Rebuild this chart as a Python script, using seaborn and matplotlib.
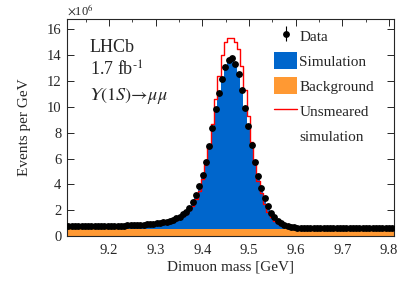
import numpy as np
import matplotlib
matplotlib.use("Agg")
import matplotlib.pyplot as plt
import seaborn as sns
from matplotlib.lines import Line2D
from matplotlib.patches import Patch
from matplotlib.ticker import MultipleLocator, FuncFormatter

# binning: 100 bins of 7 MeV between 9.11 and 9.81 GeV
edges = np.linspace(9.11, 9.81, 101)
centers = 0.5 * (edges[:-1] + edges[1:])

# events per GeV, in units of 1e6
data = [0.75, 0.75, 0.75, 0.76, 0.76, 0.76, 0.76, 0.77, 0.77, 0.77,
        0.78, 0.78, 0.78, 0.79, 0.79, 0.80, 0.80, 0.81, 0.82, 0.83,
        0.84, 0.85, 0.86, 0.88, 0.90, 0.92, 0.95, 0.98, 1.02, 1.06,
        1.12, 1.19, 1.27, 1.37, 1.50, 1.68, 1.89, 2.20, 2.61, 3.16,
        3.85, 4.76, 5.74, 6.98, 8.37, 9.80, 11.04, 12.20, 13.10, 13.67,
        13.75, 13.36, 12.53, 11.30, 9.92, 8.50, 7.08, 5.74, 4.65, 3.72,
        2.94, 2.30, 1.80, 1.45, 1.16, 0.98, 0.85, 0.76, 0.70, 0.67,
        0.65, 0.64, 0.63, 0.62, 0.62, 0.61, 0.61, 0.61, 0.60, 0.60,
        0.60, 0.60, 0.60, 0.60, 0.60, 0.60, 0.60, 0.60, 0.60, 0.60,
        0.60, 0.60, 0.60, 0.60, 0.60, 0.60, 0.60, 0.60, 0.60, 0.60]

simulation = [0.72, 0.72, 0.72, 0.73, 0.73, 0.73, 0.73, 0.74, 0.74, 0.74,
              0.75, 0.75, 0.75, 0.76, 0.76, 0.77, 0.77, 0.78, 0.79, 0.80,
              0.81, 0.82, 0.83, 0.85, 0.87, 0.89, 0.92, 0.95, 0.99, 1.03,
              1.09, 1.16, 1.24, 1.34, 1.47, 1.65, 1.86, 2.17, 2.58, 3.15,
              3.85, 4.78, 5.80, 7.05, 8.45, 9.90, 11.20, 12.35, 13.25, 13.80,
              13.90, 13.45, 12.60, 11.35, 9.95, 8.50, 7.05, 5.70, 4.60, 3.65,
              2.88, 2.24, 1.75, 1.40, 1.12, 0.94, 0.82, 0.74, 0.68, 0.65,
              0.63, 0.62, 0.61, 0.61, 0.60, 0.60, 0.60, 0.60, 0.59, 0.59,
              0.59, 0.59, 0.59, 0.59, 0.59, 0.59, 0.59, 0.59, 0.59, 0.59,
              0.59, 0.59, 0.59, 0.59, 0.59, 0.59, 0.59, 0.59, 0.59, 0.59]

unsmeared = [0.69, 0.69, 0.69, 0.70, 0.70, 0.70, 0.70, 0.71, 0.71, 0.71,
             0.72, 0.72, 0.72, 0.73, 0.73, 0.74, 0.74, 0.75, 0.76, 0.77,
             0.78, 0.79, 0.80, 0.82, 0.84, 0.86, 0.89, 0.92, 0.95, 0.99,
             1.05, 1.11, 1.18, 1.27, 1.38, 1.52, 1.72, 1.98, 2.35, 2.85,
             3.50, 4.40, 5.50, 6.90, 8.70, 10.60, 12.40, 14.00, 15.05, 15.30,
             15.35, 15.05, 14.45, 13.20, 11.30, 9.30, 7.30, 5.60, 4.30, 3.30,
             2.50, 1.90, 1.48, 1.18, 0.98, 0.85, 0.76, 0.70, 0.66, 0.63,
             0.62, 0.61, 0.60, 0.60, 0.59, 0.59, 0.59, 0.59, 0.59, 0.59,
             0.59, 0.59, 0.59, 0.59, 0.59, 0.59, 0.59, 0.59, 0.59, 0.59,
             0.59, 0.59, 0.59, 0.59, 0.59, 0.59, 0.59, 0.59, 0.59, 0.59]

background = [0.58, 0.58, 0.58, 0.58, 0.58, 0.58, 0.58, 0.58, 0.58, 0.58,
              0.58, 0.58, 0.58, 0.58, 0.58, 0.58, 0.58, 0.58, 0.58, 0.58,
              0.57, 0.57, 0.57, 0.57, 0.57, 0.57, 0.57, 0.57, 0.57, 0.57,
              0.57, 0.57, 0.57, 0.57, 0.57, 0.57, 0.57, 0.57, 0.57, 0.57,
              0.57, 0.57, 0.57, 0.57, 0.57, 0.57, 0.57, 0.57, 0.57, 0.57,
              0.57, 0.57, 0.57, 0.57, 0.57, 0.57, 0.57, 0.57, 0.57, 0.57,
              0.57, 0.57, 0.57, 0.57, 0.57, 0.57, 0.57, 0.57, 0.57, 0.57,
              0.57, 0.57, 0.57, 0.57, 0.57, 0.57, 0.57, 0.57, 0.57, 0.57,
              0.56, 0.56, 0.56, 0.56, 0.56, 0.56, 0.56, 0.56, 0.56, 0.56,
              0.56, 0.56, 0.56, 0.56, 0.56, 0.56, 0.56, 0.56, 0.56, 0.56]

scale = 1e6
data = np.array(data) * scale
simulation = np.array(simulation) * scale
unsmeared = np.array(unsmeared) * scale
background = np.array(background) * scale
width = edges[1] - edges[0]
data_err = np.sqrt(data * width) / width
bin_list = edges.tolist()

blue = "#0066cc"
orange = "#ff9933"
red = "#ff0000"

sns.set_style("ticks")
plt.rcParams["font.family"] = ["Liberation Serif", "DejaVu Serif"]
plt.rcParams["mathtext.fontset"] = "stix"

fig = plt.figure(figsize=(4.15, 2.81), dpi=100)
ax = fig.add_axes([0.161, 0.160, 0.788, 0.772])

sns.histplot(x=centers, weights=simulation, bins=bin_list, element="step",
             fill=True, color=blue, alpha=1, linewidth=0, ax=ax)
sns.histplot(x=centers, weights=background, bins=bin_list, element="step",
             fill=True, color=orange, alpha=1, linewidth=0, ax=ax)
sns.histplot(x=centers, weights=unsmeared, bins=bin_list, element="step",
             fill=False, color=red, linewidth=1.0, ax=ax)
ax.errorbar(centers, data, yerr=data_err, fmt="o", color="black",
            ms=3.9, elinewidth=0.8, capsize=0, zorder=5)

ax.set_xlim(9.11, 9.81)
ax.set_ylim(0, 16.8e6)
ax.xaxis.set_major_locator(MultipleLocator(0.1))
ax.xaxis.set_minor_locator(MultipleLocator(0.05))
ax.yaxis.set_major_locator(MultipleLocator(2e6))
ax.yaxis.set_major_formatter(FuncFormatter(lambda v, p: f"{v / scale:g}"))
ax.text(0.0, 1.0, "$\\times$10$^{6}$", transform=ax.transAxes,
        fontsize=9, ha="left", va="bottom")

ax.tick_params(which="both", direction="in", top=True, right=True,
               labelsize=10.5)
ax.tick_params(axis="x", pad=6)
ax.tick_params(axis="y", pad=4)
ax.tick_params(which="major", length=5, width=0.7)
ax.tick_params(which="minor", length=2.5, width=0.6)
for s in ax.spines.values():
    s.set_linewidth(0.8)

ax.set_xlabel("Dimuon mass [GeV]", fontsize=11, labelpad=2)
ax.set_ylabel("Events per GeV", fontsize=11, labelpad=11)

ax.text(0.07, 0.847, "LHCb", transform=ax.transAxes, fontsize=13)
ax.text(0.07, 0.737, "1.7 fb$^{\\text{-1}}$", transform=ax.transAxes, fontsize=13)
ax.text(0.07, 0.627, "$\U0001D6F6(1S)\\!\\rightarrow\\!\\mu\\mu$",
        transform=ax.transAxes, fontsize=13)

handles = [
    ax.errorbar([], [], yerr=[], fmt="o", color="black", ms=3.9, elinewidth=0.8),
    Patch(facecolor=blue, edgecolor="none"),
    Patch(facecolor=orange, edgecolor="none"),
    Line2D([], [], color=red, lw=1.0),
    Line2D([], [], color="none"),
]
labels = ["Data", "Simulation", "Background", "Unsmeared", "simulation"]
ax.legend(handles, labels, loc="upper right", frameon=False, fontsize=11,
          handlelength=1.5, handleheight=1.4, handletextpad=0.15,
          labelspacing=0.48, borderaxespad=0.1, bbox_to_anchor=(0.963, 1.0))

fig.savefig("out.png", dpi=100)
